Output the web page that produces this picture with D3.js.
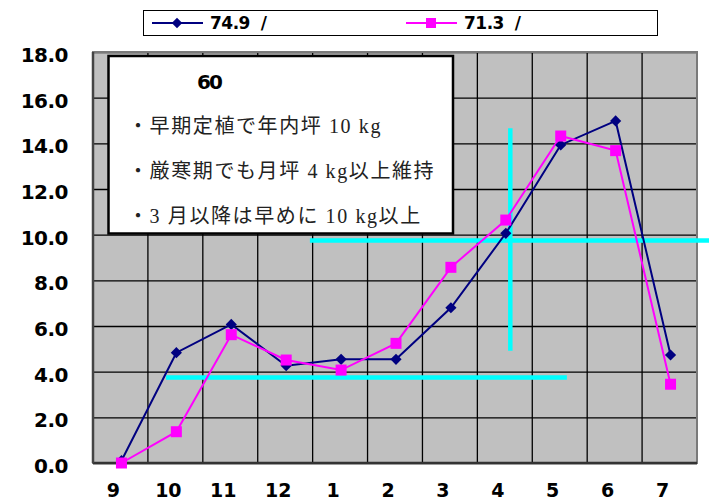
<!DOCTYPE html>
<html>
<head>
<meta charset="utf-8">
<script src="https://cdn.jsdelivr.net/npm/d3@7/dist/d3.min.js"></script>
<style>
  html, body { margin: 0; padding: 0; background: #ffffff; }
  svg { display: block; }
  .num { font-family: "DejaVu Sans", sans-serif; font-weight: bold; fill: #000; }
  .note { font-family: "Liberation Serif", "Noto Sans CJK JP", serif; fill: #222; }
</style>
</head>
<body>
<svg id="chart" width="709" height="503"></svg>
<script>
// Monthly yield per tsubo (kg) for two growing seasons, Sept through July
const months = ["9", "10", "11", "12", "1", "2", "3", "4", "5", "6", "7"];
const seasonA = [0.1, 4.83, 6.07, 4.26, 4.54, 4.54, 6.80, 10.06, 13.93, 14.98, 4.73];
const seasonB = [0.0, 1.37, 5.62, 4.51, 4.07, 5.24, 8.57, 10.64, 14.32, 13.68, 3.45];
const seriesNames = ["74.9  /", "71.3  /"];
const yTickValues = [0, 2, 4, 6, 8, 10, 12, 14, 16, 18];

// Target guide lines, in month-index units along x and kg along y
const guideLevels = [
  { x0: 1.33, x1: 8.63, y0: 3.75, y1: 3.75 },
  { x0: 3.95, x1: 11.25, y0: 9.74, y1: 9.74 },
  { x0: 7.6, x1: 7.6, y0: 4.92, y1: 14.66 }
];

const noteTitle = "60";
const noteLines = [
  "・早期定植で年内坪 10 kg",
  "・厳寒期でも月坪 4 kg以上維持",
  "・3 月以降は早めに 10 kg以上"
];

const svg = d3.select("#chart");
const plot = { left: 93, right: 697, top: 52, bottom: 463 };

const x = d3.scaleBand().domain(months).range([plot.left, plot.right]).padding(0);
const xIdx = d3.scaleLinear().domain([0, months.length]).range([plot.left, plot.right]);
const y = d3.scaleLinear().domain([0, 18]).range([plot.bottom, plot.top]);
const cx = m => x(m) + x.bandwidth() / 2;

// Plot background
svg.append("rect")
  .attr("x", plot.left).attr("y", plot.top)
  .attr("width", plot.right - plot.left).attr("height", plot.bottom - plot.top)
  .attr("fill", "#c0c0c0");

// Horizontal gridlines
svg.append("g")
  .attr("transform", `translate(${plot.left},0)`)
  .call(d3.axisLeft(y).tickValues(yTickValues).tickSize(-(plot.right - plot.left)).tickFormat(""))
  .call(g => g.select(".domain").remove())
  .call(g => g.selectAll("line").attr("stroke", "#000").attr("stroke-width", 1.3));

// Vertical gridlines at category boundaries
svg.append("g")
  .selectAll("line")
  .data(d3.range(1, months.length))
  .join("line")
  .attr("x1", d => xIdx(d)).attr("x2", d => xIdx(d))
  .attr("y1", plot.top).attr("y2", plot.bottom)
  .attr("stroke", "#000").attr("stroke-width", 1.3);

// Plot frame
svg.append("rect")
  .attr("x", plot.left).attr("y", plot.top)
  .attr("width", plot.right - plot.left).attr("height", plot.bottom - plot.top)
  .attr("fill", "none").attr("stroke", "#7a7a7a").attr("stroke-width", 2);
svg.append("line")
  .attr("x1", plot.left).attr("x2", plot.right)
  .attr("y1", plot.bottom).attr("y2", plot.bottom)
  .attr("stroke", "#333").attr("stroke-width", 2.5);
svg.append("line")
  .attr("x1", plot.left).attr("x2", plot.left)
  .attr("y1", plot.top).attr("y2", plot.bottom)
  .attr("stroke", "#444").attr("stroke-width", 2.5);

// Y axis labels
svg.append("g")
  .attr("transform", `translate(${plot.left - 25},0)`)
  .call(d3.axisLeft(y).tickValues(yTickValues).tickSize(0).tickPadding(0).tickFormat(d3.format(".1f")))
  .call(g => g.select(".domain").remove())
  .call(g => g.selectAll("text")
    .attr("class", "num")
    .attr("font-size", 20)
    .attr("letter-spacing", -0.5)
    .attr("dy", "0.38em")
    .attr("y", 2));

// X axis labels
svg.append("g")
  .attr("transform", `translate(-7,${plot.bottom})`)
  .call(d3.axisBottom(x).tickSize(0).tickPadding(0))
  .call(g => g.select(".domain").remove())
  .call(g => g.selectAll("text")
    .attr("class", "num")
    .attr("font-size", 19)
    .attr("dy", 0)
    .attr("y", 34));

// Text box with the season notes
const box = svg.append("g");
box.append("rect")
  .attr("x", 108.5).attr("y", 56)
  .attr("width", 344.5).attr("height", 177.5)
  .attr("fill", "#fff").attr("stroke", "#000").attr("stroke-width", 2.5);
box.append("text")
  .attr("class", "num")
  .attr("x", 197).attr("y", 89)
  .attr("font-size", 20)
  .attr("letter-spacing", -2)
  .text(noteTitle);
box.selectAll("text.note")
  .data(noteLines)
  .join("text")
  .attr("class", "note")
  .attr("x", 128).attr("y", (d, i) => 133 + i * 45)
  .attr("font-size", 20)
  .attr("letter-spacing", 1.6)
  .style("white-space", "pre")
  .text(d => d);

// Cyan target guides
svg.append("g")
  .selectAll("line")
  .data(guideLevels)
  .join("line")
  .attr("x1", d => xIdx(d.x0)).attr("x2", d => xIdx(d.x1))
  .attr("y1", d => y(d.y0)).attr("y2", d => y(d.y1))
  .attr("stroke", "#00ffff").attr("stroke-width", 4.5);

// Series lines and markers
const line = d3.line().x((d, i) => cx(months[i]) + 1).y(d => y(d));

svg.append("path").datum(seasonA)
  .attr("d", line).attr("fill", "none")
  .attr("stroke", "#000080").attr("stroke-width", 2);
svg.append("path").datum(seasonB)
  .attr("d", line).attr("fill", "none")
  .attr("stroke", "#ff00ff").attr("stroke-width", 2);

const diamond = d3.symbol().type(d3.symbolDiamond2).size(80);
svg.append("g").selectAll("path")
  .data(seasonA)
  .join("path")
  .attr("d", diamond)
  .attr("transform", (d, i) => `translate(${cx(months[i]) + 1},${y(d)})`)
  .attr("fill", "#000080");

svg.append("g").selectAll("rect")
  .data(seasonB)
  .join("rect")
  .attr("x", (d, i) => cx(months[i]) + 1 - 5.5)
  .attr("y", d => y(d) - 5.5)
  .attr("width", 11).attr("height", 11)
  .attr("fill", "#ff00ff");

// Legend
const legend = svg.append("g");
legend.append("rect")
  .attr("x", 143.5).attr("y", 10.5)
  .attr("width", 514).attr("height", 25)
  .attr("fill", "#fff").attr("stroke", "#000").attr("stroke-width", 1);
const legendItems = [
  { name: seriesNames[0], color: "#000080", shape: "diamond", x0: 152 },
  { name: seriesNames[1], color: "#ff00ff", shape: "square", x0: 406 }
];
legendItems.forEach(it => {
  const g = legend.append("g").attr("transform", `translate(${it.x0},23)`);
  g.append("line").attr("x1", 0).attr("x2", 51).attr("y1", 0).attr("y2", 0)
    .attr("stroke", it.color).attr("stroke-width", 2);
  if (it.shape === "diamond") {
    g.append("path").attr("d", d3.symbol().type(d3.symbolDiamond2).size(70))
      .attr("transform", "translate(25,0)").attr("fill", it.color);
  } else {
    g.append("rect").attr("x", 20).attr("y", -5).attr("width", 10).attr("height", 10)
      .attr("fill", it.color);
  }
  g.append("text")
    .attr("class", "num")
    .attr("x", 58).attr("y", 6)
    .attr("font-size", 17)
    .attr("letter-spacing", -0.5)
    .style("white-space", "pre")
    .text(it.name);
});
</script>
</body>
</html>
